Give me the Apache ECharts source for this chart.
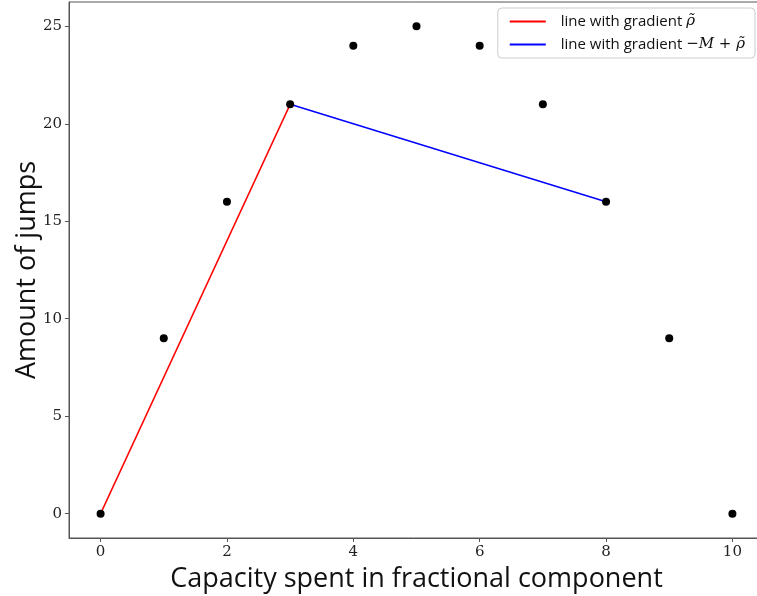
<!DOCTYPE html>
<html><head><meta charset="utf-8">
<script src="https://cdn.jsdelivr.net/npm/echarts@6/dist/echarts.min.js"></script>
<style>html,body{margin:0;padding:0;background:#fff}#c{width:757px;height:596px}</style>
</head><body><div id="c"></div>
<script>
const xValues = [0, 1, 2, 3, 4, 5, 6, 7, 8, 9, 10];
const jumps = [0, 9, 16, 21, 24, 25, 24, 21, 16, 9, 0];
const redLine = [[0, 0], [3, 21]];
const blueLine = [[3, 21], [8, 16]];
const xTicks = [0, 2, 4, 6, 8, 10];
const yTicks = [0, 5, 10, 15, 20, 25];

const chart = echarts.init(document.getElementById('c'), null, {renderer: 'canvas'});
const tickFont = {fontFamily: 'DejaVu Serif', fontSize: 15, color: '#222'};
chart.setOption({
  animation: false,
  backgroundColor: '#fff',
  grid: {left: 69, right: -7, top: 2, bottom: 58, show: true, borderColor: '#555', borderWidth: 1,
         containLabel: false, outerBoundsMode: 'none'},
  legend: {
    right: 2, top: 8, orient: 'vertical',
    backgroundColor: '#fff', borderColor: '#ccc', borderWidth: 1, borderRadius: 4,
    padding: [6, 10, 6, 12], itemGap: 8, itemWidth: 36, itemHeight: 2, icon: 'rect',
    data: ['red', 'blue'],
    formatter: function (n) {
      return n === 'red' ? 'line with gradient {m|ρ̃}' : 'line with gradient {m|−M + ρ̃}';
    },
    textStyle: {fontFamily: 'Open Sans', fontSize: 15, color: '#111', padding: [0, 0, 0, 10],
      rich: {m: {fontFamily: 'DejaVu Serif', fontStyle: 'italic', fontSize: 15, color: '#111'}}}
  },
  xAxis: {
    type: 'value', min: -0.5, max: 10.5,
    name: 'Capacity spent in fractional component', nameLocation: 'middle', nameGap: 28,
    nameMoveOverlap: false,
    nameTextStyle: {fontFamily: 'Open Sans', fontSize: 27, color: '#111'},
    axisLine: {show: true, onZero: false, lineStyle: {color: '#555'}},
    axisTick: {show: true, length: 4, customValues: xTicks, lineStyle: {color: '#555'}},
    axisLabel: Object.assign({customValues: xTicks, margin: 7}, tickFont),
    splitLine: {show: false}
  },
  yAxis: {
    type: 'value', min: -1.25, max: 26.25,
    name: 'Amount of jumps', nameLocation: 'middle', nameGap: 28,
    nameMoveOverlap: false,
    nameTextStyle: {fontFamily: 'Open Sans', fontSize: 27, color: '#111'},
    axisLine: {show: true, onZero: false, lineStyle: {color: '#555'}},
    axisTick: {show: true, length: 4, customValues: yTicks, lineStyle: {color: '#555'}},
    axisLabel: Object.assign({customValues: yTicks, margin: 7}, tickFont),
    splitLine: {show: false}
  },
  series: [
    {name: 'red', type: 'line', data: redLine, symbol: 'none', color: '#ff0000',
     lineStyle: {width: 1.5, color: '#ff0000'}, z: 2},
    {name: 'blue', type: 'line', data: blueLine, symbol: 'none', color: '#0000ff',
     lineStyle: {width: 1.5, color: '#0000ff'}, z: 2},
    {name: 'points', type: 'scatter', data: xValues.map((x, i) => [x, jumps[i]]),
     symbolSize: 8, itemStyle: {color: '#000', opacity: 1}, z: 3}
  ]
});
</script></body></html>
